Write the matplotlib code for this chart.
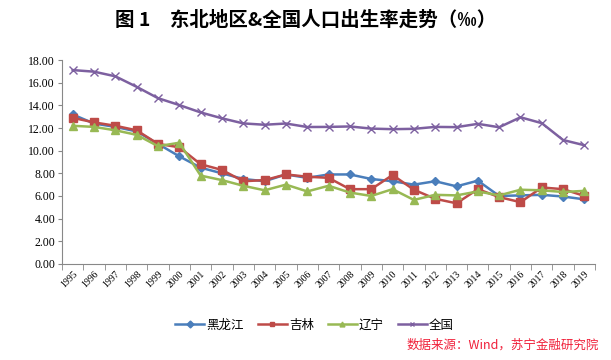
import matplotlib
matplotlib.use('Agg')
import matplotlib.pyplot as plt
import numpy as np

plt.rcParams['font.family'] = ['Noto Sans CJK SC', 'DejaVu Sans']

years = [str(y) for y in range(1995, 2020)]
heilongjiang = [13.2, 12.4, 12.1, 11.7, 10.6, 9.5, 8.5, 8.0, 7.5, 7.3, 7.9, 7.6, 7.9, 7.9,
                7.5, 7.3, 7.0, 7.3, 6.85, 7.35, 6.0, 6.05, 6.1, 5.95, 5.7]
jilin = [12.9, 12.5, 12.2, 11.8, 10.6, 10.3, 8.8, 8.3, 7.3, 7.4, 7.9, 7.7, 7.6, 6.6,
         6.6, 7.85, 6.55, 5.75, 5.35, 6.6, 5.9, 5.45, 6.75, 6.6, 6.0]
liaoning = [12.2, 12.1, 11.8, 11.4, 10.4, 10.7, 7.8, 7.4, 6.9, 6.5, 7.0, 6.4, 6.9, 6.3,
            6.0, 6.6, 5.65, 6.1, 6.05, 6.4, 6.05, 6.55, 6.5, 6.35, 6.45]
national = [17.12, 16.98, 16.57, 15.64, 14.64, 14.03, 13.38, 12.86, 12.41, 12.29, 12.40,
            12.09, 12.10, 12.14, 11.95, 11.90, 11.93, 12.10, 12.08, 12.37, 12.07, 12.95,
            12.43, 10.94, 10.48]

names = ['黑龙江', '吉林', '辽宁', '全国']
colors = ['#4A7EBB', '#BE4B48', '#98B954', '#7D60A0']

fig = plt.figure(figsize=(6.11, 3.6), dpi=100)
ax = fig.add_axes([0.1015, 0.267, 0.8725, 0.566])

x = np.arange(len(years))
ax.plot(x, heilongjiang, color=colors[0], lw=1.8, marker='D', ms=4, label=names[0])
ax.plot(x, jilin, color=colors[1], lw=1.8, marker='s', ms=6, label=names[1])
ax.plot(x, liaoning, color=colors[2], lw=1.8, marker='^', ms=6, label=names[2])
ax.plot(x, national, color=colors[3], lw=1.8, marker='x', ms=6, mew=1.0, label=names[3])

ax.set_xlim(-0.5, len(years) - 0.5)
ax.set_ylim(0, 18)
ax.set_yticks(np.arange(0, 18.1, 2))
ax.set_yticklabels(['%.2f' % v for v in np.arange(0, 18.1, 2)],
                   fontfamily='Liberation Serif', fontsize=8.5)
ax.set_xticks(x)
ax.set_xticklabels(years, rotation=45, fontfamily='Liberation Serif', fontsize=7,
                   ha='right', va='top', rotation_mode='anchor')
ax.set_xticks(np.arange(-0.5, len(years), 1), minor=True)
ax.tick_params(axis='x', which='major', length=0, pad=4)
ax.tick_params(axis='x', which='minor', length=4, color='#888888', direction='out')
ax.tick_params(axis='y', length=3, color='#888888', direction='out', pad=2)

for s in ['top', 'right']:
    ax.spines[s].set_visible(False)
for s in ['left', 'bottom']:
    ax.spines[s].set_color('#888888')
    ax.spines[s].set_linewidth(0.8)

fig.text(0.5, 0.944, '图 1　东北地区&全国人口出生率走势（‰）', ha='center', va='center',
         fontsize=14, fontweight='bold')

leg = fig.legend(loc='center', bbox_to_anchor=(0.515, 0.097), ncol=4, frameon=False,
                 fontsize=9, handlelength=2.3, columnspacing=1.1, handletextpad=0.2)
for h in leg.legend_handles:
    h.set_markersize(3.5)

fig.text(0.98, 0.04, '数据来源：Wind，苏宁金融研究院', ha='right', va='center',
         fontsize=9, color='#F0203A', style='italic')

fig.savefig('out.png', dpi=100)
